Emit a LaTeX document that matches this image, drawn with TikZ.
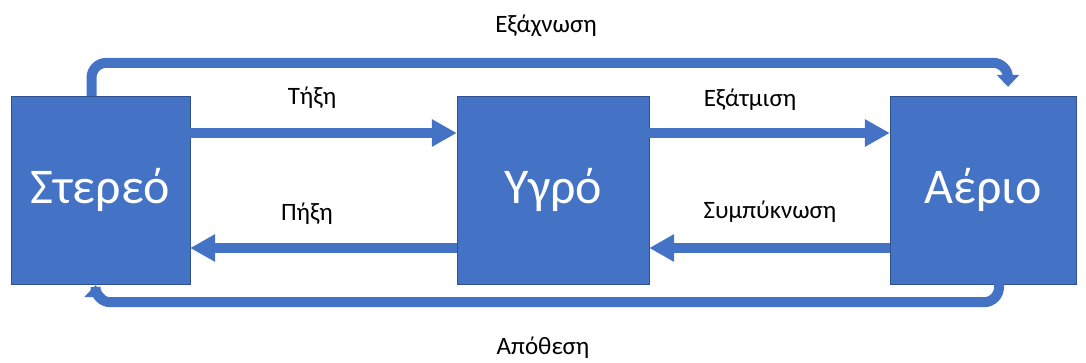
\documentclass[tikz,border=0pt]{standalone}
\usepackage{fontspec}
\setmainfont{Carlito}
\usetikzlibrary{positioning,calc,arrows.meta}
\definecolor{phase}{HTML}{4472C4}
\definecolor{phaseline}{HTML}{2F528F}

\begin{document}
\begin{tikzpicture}[x=1pt, y=-1pt,
    state/.style={draw=phaseline, fill=phase, text=white, minimum height=188pt, inner sep=0pt, font=\fontsize{50}{54}\selectfont},
    flow/.style={draw=phase, line width=10pt, -{Triangle[length=25pt,width=26pt]}},
    cycle/.style={draw=phase, line width=10pt, rounded corners=15pt, -{Triangle[length=12pt,width=22pt]}},
    lbl/.style={anchor=base, font=\fontsize{25}{29}\selectfont}]
    \useasboundingbox (0,0) rectangle (1086,362);

    \node (solid) [state, minimum width=179pt] at (100.5,190) {Στερεό};
    \node (liquid) [state, minimum width=192pt] at (553,190) {Υγρό};
    \node (gas) [state, minimum width=186pt] at (983,190) {Αέριο};

    \draw[flow] ([yshift=57pt]solid.east) -- ([yshift=57pt]liquid.west);
    \draw[flow] ([yshift=-58pt]liquid.west) -- ([yshift=-58pt]solid.east);
    \draw[flow] ([yshift=57pt]liquid.east) -- ([yshift=57pt]gas.west);
    \draw[flow] ([yshift=-58pt]gas.west) -- ([yshift=-58pt]liquid.east);

    \draw[cycle, shorten >=9pt] ([xshift=-9pt]solid.north) -- ++(0,-33) -| ([xshift=25pt]gas.north);
    \draw[cycle, shorten >=1pt] ([xshift=16pt]gas.south) -- ++(0,18) -| ([xshift=-5pt]solid.south);

    \node (melt) [lbl] at (312,104) {Τήξη};
    \node (freeze) [lbl] at (307,220) {Πήξη};
    \node (evap) [lbl] at (750,106) {Εξάτμιση};
    \node (cond) [lbl] at (770,218) {Συμπύκνωση};
    \node (subl) [lbl] at (546,32) {Εξάχνωση};
    \node (depo) [lbl] at (543,354) {Απόθεση};
\end{tikzpicture}
\end{document}
